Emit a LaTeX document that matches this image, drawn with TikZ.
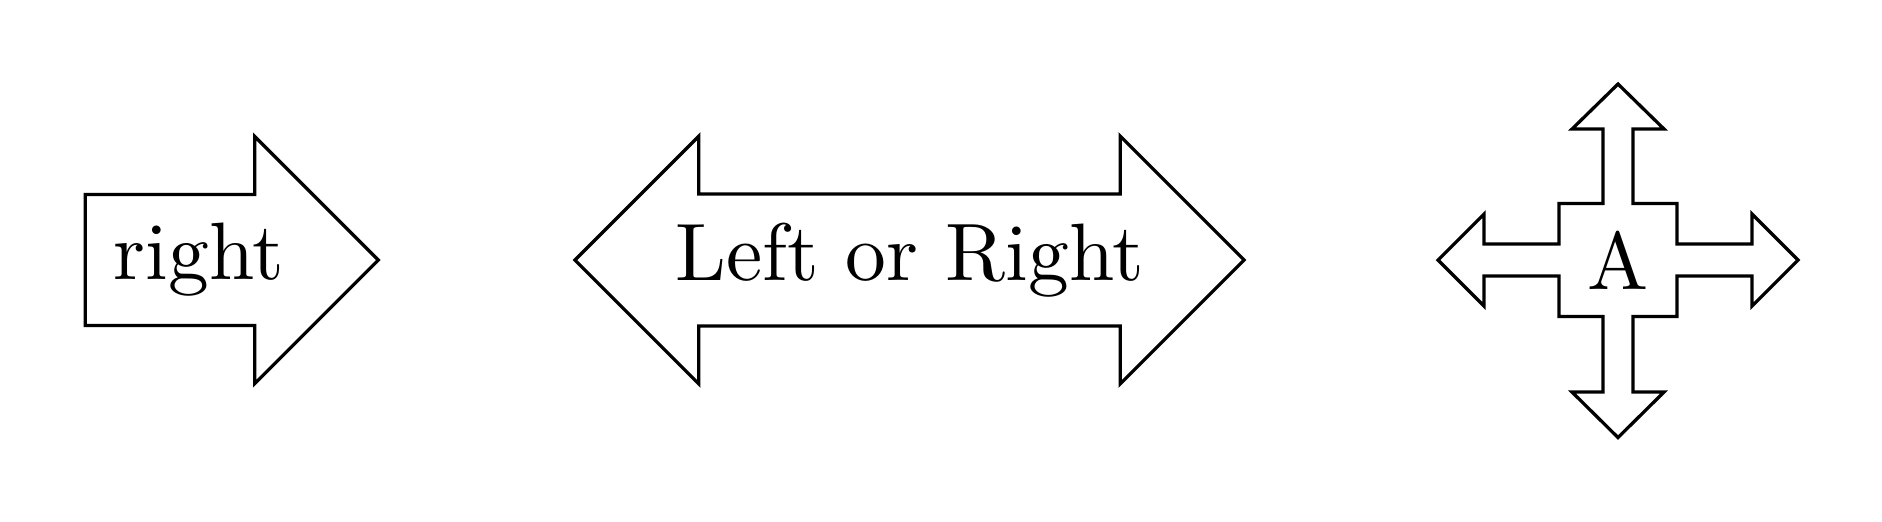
\documentclass[tikz,border=0pt]{standalone}
\usetikzlibrary{shapes.arrows}
\begin{document}
\begin{tikzpicture}[x=0.1227pt,y=-0.1227pt,
  arrowbox/.style={draw,line width=0.4pt}]
\useasboundingbox (0,0) rectangle (1882,521);
\node[arrowbox,single arrow] (r) at (199,260) {right};
\node[arrowbox,double arrow,inner xsep=4.0pt] (lr) at (909.5,260) {Left or Right};
\node[inner sep=0pt] (A) at (1618,260) {A};
\begin{scope}[shift={(A.center)}]
\draw[line width=0.4pt,line join=miter]
 (0,-176) -- (46,-131) -- (15,-131) -- (15,-56.5)
 -- (59,-56.5) -- (59,-16) -- (134,-16) -- (134,-46)
 -- (180,0) -- (134,46) -- (134,16) -- (59,16)
 -- (59,56.5) -- (15,56.5) -- (15,132) -- (46,132)
 -- (0,177.5) -- (-46,132) -- (-15,132) -- (-15,56.5)
 -- (-59,56.5) -- (-59,16) -- (-134,16) -- (-134,46)
 -- (-180,0) -- (-134,-46) -- (-134,-16) -- (-59,-16)
 -- (-59,-56.5) -- (-15,-56.5) -- (-15,-131) -- (-46,-131) -- cycle;
\end{scope}
\end{tikzpicture}
\end{document}
